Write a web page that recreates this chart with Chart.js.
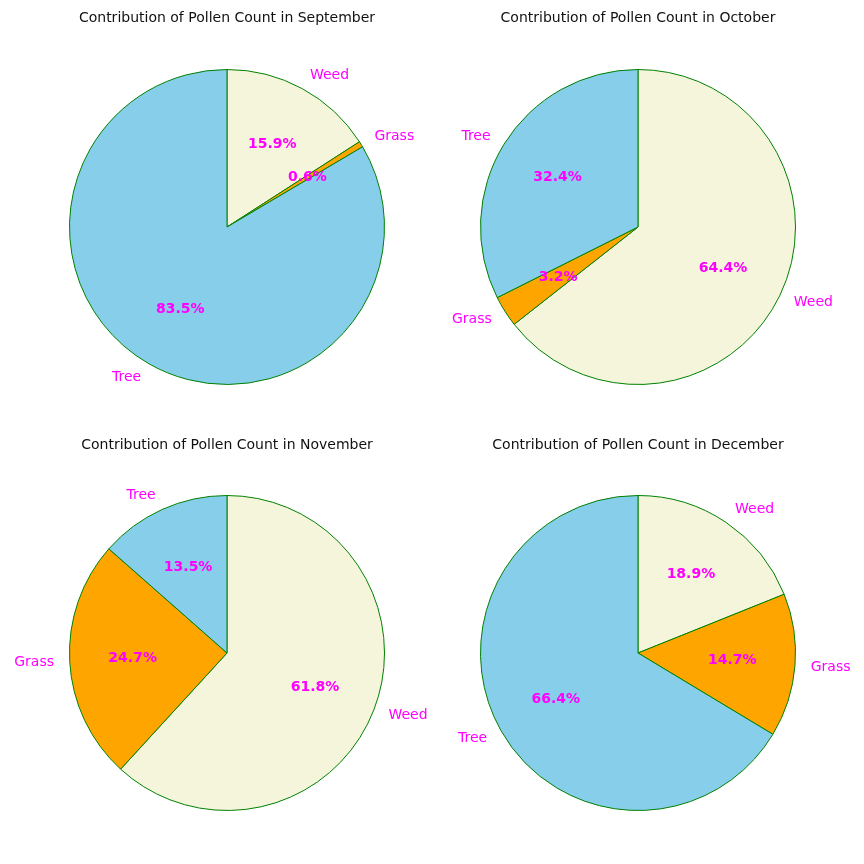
<!DOCTYPE html>
<html>
<head>
<meta charset="utf-8">
<script src="https://cdn.jsdelivr.net/npm/chart.js@4"></script>
<style>
  body { margin: 0; background: #fff; }
  .cell { position: absolute; width: 432px; height: 432px; }
</style>
</head>
<body>
<div class="cell" style="left:11px;top:11px"><canvas id="c0" width="432" height="432"></canvas></div>
<div class="cell" style="left:422px;top:11px"><canvas id="c1" width="432" height="432"></canvas></div>
<div class="cell" style="left:11px;top:437px"><canvas id="c2" width="432" height="432"></canvas></div>
<div class="cell" style="left:422px;top:437px"><canvas id="c3" width="432" height="432"></canvas></div>
<script>
const categories = ['Tree', 'Grass', 'Weed'];
const months = ['September', 'October', 'November', 'December'];
const tree = [83.5, 32.4, 13.5, 66.3];
const grass = [0.6, 3.2, 24.7, 14.7];
const weed = [15.9, 64.4, 61.8, 18.9];
const colors = ['#87CEEB', '#FFA500', '#F5F5DC'];

// matplotlib draws counter-clockwise from the top; Chart.js goes clockwise, so reverse the order
const labelPlugin = {
    id: 'pieLabels',
    afterDatasetsDraw(chart, args, opts) {
        const ctx = chart.ctx;
        const meta = chart.getDatasetMeta(0);
        const labels = chart.data.labels;
        const vals = chart.data.datasets[0].data;
        const total = vals.reduce((a, b) => a + b, 0);
        ctx.save();
        ctx.fillStyle = '#111';
        ctx.font = '14px "DejaVu Sans", sans-serif';
        ctx.textAlign = 'center';
        ctx.textBaseline = 'middle';
        ctx.fillText(opts.title, chart.width / 2, opts.titleY);
        meta.data.forEach((arc, i) => {
            const mid = (arc.startAngle + arc.endAngle) / 2;
            const r = arc.outerRadius;
            const cx = Math.cos(mid), cy = Math.sin(mid);
            ctx.fillStyle = '#FF00FF';
            ctx.font = '14px "DejaVu Sans", sans-serif';
            ctx.textAlign = cx > 0 ? 'left' : 'right';
            ctx.fillText(labels[i], arc.x + cx * r * 1.1, arc.y + cy * r * 1.1);
            ctx.font = 'bold 14px "DejaVu Sans", sans-serif';
            ctx.textAlign = 'center';
            ctx.fillText((vals[i] / total * 100).toFixed(1) + '%', arc.x + cx * r * 0.6, arc.y + cy * r * 0.6);
        });
        ctx.restore();
    }
};

months.forEach((m, k) => {
    new Chart(document.getElementById('c' + k), {
        type: 'pie',
        data: {
            labels: categories.slice().reverse(),
            datasets: [{
                data: [weed[k], grass[k], tree[k]],
                backgroundColor: colors.slice().reverse(),
                borderColor: 'green',
                borderWidth: 1
            }]
        },
        options: {
            responsive: false,
            animation: false,
            layout: { padding: 58 },
            plugins: {
                legend: { display: false },
                tooltip: { enabled: false },
                pieLabels: { title: 'Contribution of Pollen Count in ' + m, titleY: k < 2 ? 7 : 8 }
            }
        },
        plugins: [labelPlugin]
    });
});
</script>
</body>
</html>
